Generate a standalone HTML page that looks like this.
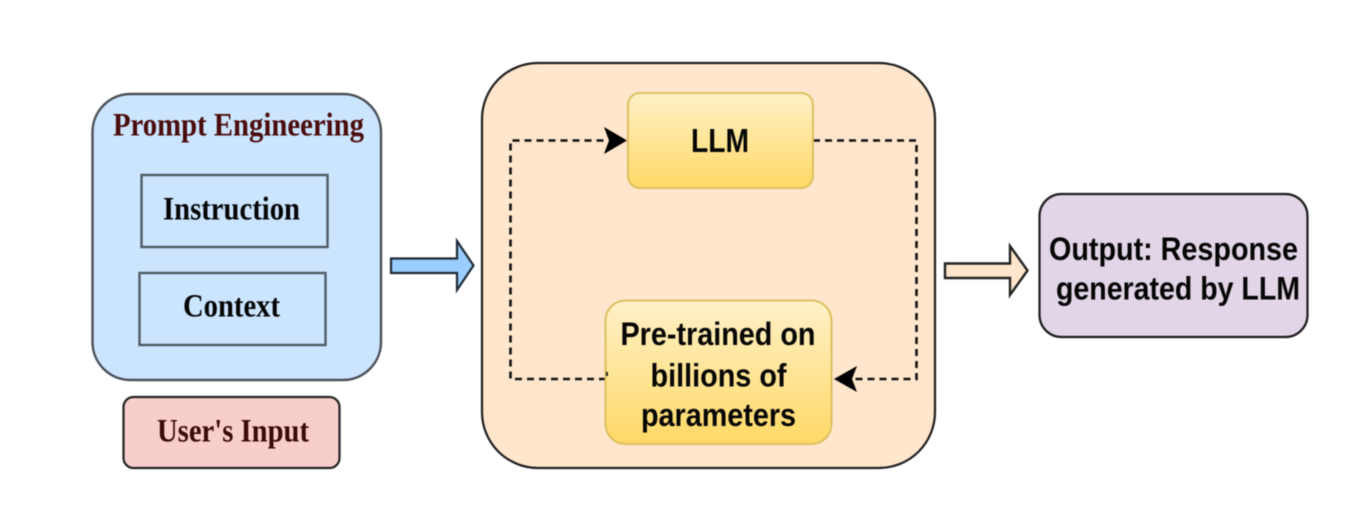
<!DOCTYPE html>
<html>
<head>
<meta charset="utf-8">
<style>
html,body{margin:0;padding:0;background:#fff;width:1367px;height:527px;overflow:hidden}
svg{display:block;filter:blur(.6px)}
.se{font-family:"Liberation Serif",serif;font-weight:bold}
.sa{font-family:"Liberation Sans",sans-serif;font-weight:bold;fill:#050505}
</style>
</head>
<body>
<svg width="1367" height="527" viewBox="0 0 1367 527" xmlns="http://www.w3.org/2000/svg">
<defs>
<linearGradient id="g" x1="0" y1="0" x2="0" y2="1">
<stop offset="0" stop-color="#fff1c8"/>
<stop offset="1" stop-color="#ffd966"/>
</linearGradient>
</defs>

<rect x="92.500" y="94" width="288.500" height="286" rx="38" fill="#cce5ff" stroke="#4a5058" stroke-width="2.400"/>
<text class="se" x="113" y="135.500" font-size="33" fill="#4a0c0c" textLength="251" lengthAdjust="spacingAndGlyphs">Prompt Engineering</text>
<rect x="141.500" y="175" width="186" height="72" fill="#cce5ff" stroke="#4f5a64" stroke-width="2.400"/>
<text class="se" x="163" y="219.500" font-size="33" fill="#050505" textLength="137" lengthAdjust="spacingAndGlyphs">Instruction</text>
<rect x="139.500" y="273" width="186" height="72" fill="#cce5ff" stroke="#4f5a64" stroke-width="2.400"/>
<text class="se" x="183" y="316.500" font-size="33" fill="#050505" textLength="97" lengthAdjust="spacingAndGlyphs">Context</text>
<rect x="123.500" y="397" width="216" height="71" rx="10" fill="#f8cecc" stroke="#222" stroke-width="2.200"/>
<text class="se" x="157" y="441.500" font-size="33" fill="#3a0a0a" textLength="152" lengthAdjust="spacingAndGlyphs">User's Input</text>

<path d="M391 258.500H457V241L473.500 265.500L457 290V273H391Z" fill="#99ccff" stroke="#1d2a36" stroke-width="2.200"/>

<rect x="482" y="63" width="453" height="405" rx="56" fill="#ffe6cc" stroke="#1e1e1e" stroke-width="2.200"/>

<path d="M813 140.500H916.500V379H850" fill="none" stroke="#111" stroke-width="2.600" stroke-dasharray="7 5"/>
<path d="M606 379H510.500V140.500H606" fill="none" stroke="#111" stroke-width="2.600" stroke-dasharray="7 5"/>
<path d="M604 127L627 140.500L604 154L609 140.500Z" fill="#000"/>
<path d="M834 379L857 366L852 379L857 392Z" fill="#000"/>

<rect x="628" y="93" width="185" height="95" rx="12" fill="url(#g)" stroke="#dcc060" stroke-width="2"/>
<text class="sa" x="691" y="152" font-size="33" textLength="58" lengthAdjust="spacingAndGlyphs">LLM</text>
<rect x="605.500" y="300.500" width="226" height="143.500" rx="20" fill="url(#g)" stroke="#dcc060" stroke-width="2"/>
<rect x="606" y="372" width="2" height="4" fill="#222"/>
<text class="sa" x="620.500" y="345" font-size="32" textLength="195" lengthAdjust="spacingAndGlyphs">Pre-trained on</text>
<text class="sa" x="650.500" y="386.500" font-size="32" textLength="136" lengthAdjust="spacingAndGlyphs">billions of</text>
<text class="sa" x="641" y="426" font-size="32" textLength="155" lengthAdjust="spacingAndGlyphs">parameters</text>

<path d="M945 263.500H1010V246L1027.500 270.500L1010 295V278H945Z" fill="#ffe6cc" stroke="#222" stroke-width="2.400"/>

<rect x="1039.500" y="194" width="268" height="143" rx="22" fill="#e1d5e7" stroke="#1c1c1c" stroke-width="2.200"/>
<text class="sa" x="1049" y="260" font-size="32" textLength="249" lengthAdjust="spacingAndGlyphs">Output: Response</text>
<text class="sa" x="1056" y="299.500" font-size="32" textLength="244" lengthAdjust="spacingAndGlyphs">generated by LLM</text>
</svg>
</body>
</html>
